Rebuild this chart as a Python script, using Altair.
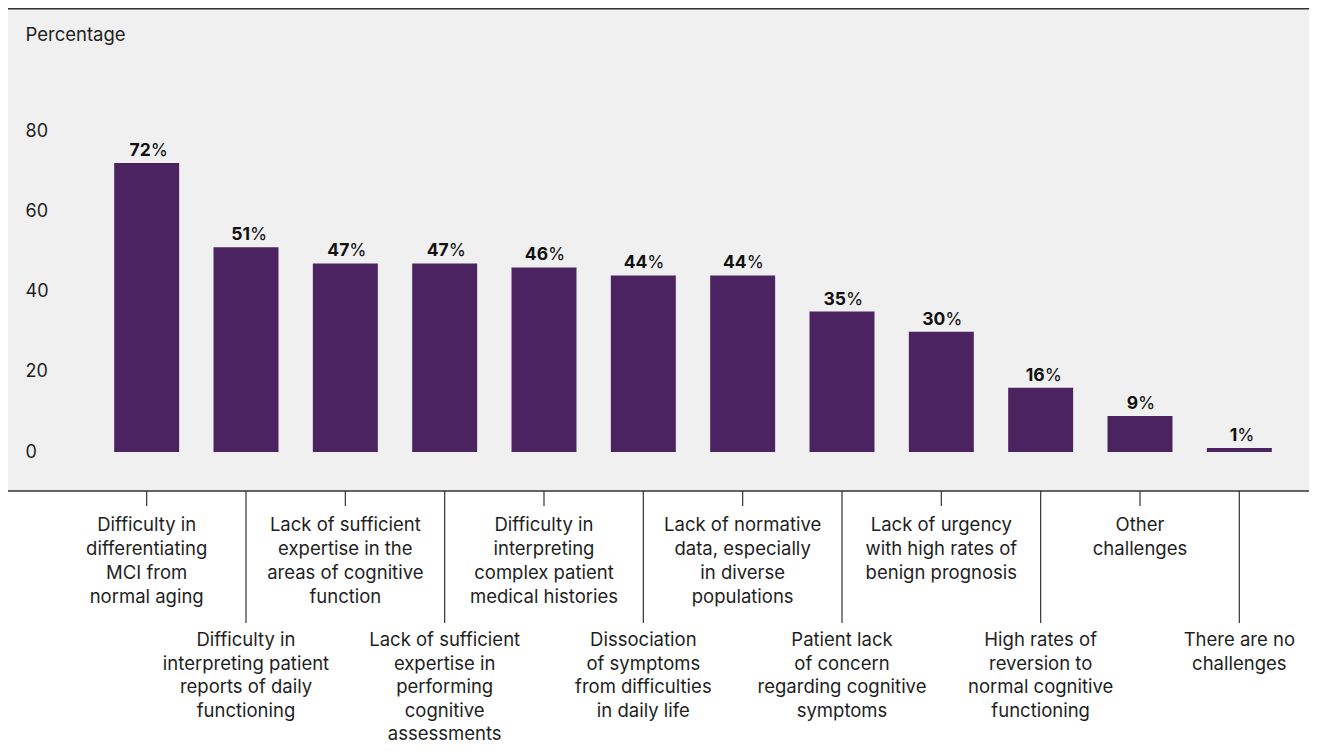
import altair as alt
import pandas as pd

categories = [
    "Difficulty in\ndifferentiating\nMCI from\nnormal aging",
    "Difficulty in\ninterpreting patient\nreports of daily\nfunctioning",
    "Lack of sufficient\nexpertise in the\nareas of cognitive\nfunction",
    "Lack of sufficient\nexpertise in\nperforming\ncognitive\nassessments",
    "Difficulty in\ninterpreting\ncomplex patient\nmedical histories",
    "Dissociation\nof symptoms\nfrom difficulties\nin daily life",
    "Lack of normative\ndata, especially\nin diverse\npopulations",
    "Patient lack\nof concern\nregarding cognitive\nsymptoms",
    "Lack of urgency\nwith high rates of\nbenign prognosis",
    "High rates of\nreversion to\nnormal cognitive\nfunctioning",
    "Other\nchallenges",
    "There are no\nchallenges",
]
values = [72, 51, 47, 47, 46, 44, 44, 35, 30, 16, 9, 1]
y_ticks = [0, 20, 40, 60, 80]

df = pd.DataFrame({"cat": categories, "v": values, "i": list(range(len(values)))})

W, H = 1192, 321
PL, PT, PR, PB = 89, 123, 20, 291
FONT = "Inter"
TXT = "#1e1e1e"
BAR = "#4a2360"
BG = "#f0f0f0"
LFS = 18.5

xs = alt.X("cat:N", sort=categories, axis=None,
           scale=alt.Scale(paddingInner=0.346, paddingOuter=0.173))
ys = alt.Y("v:Q", scale=alt.Scale(domain=[0, 80], nice=False),
           axis=alt.Axis(values=y_ticks, title="Percentage", titleAngle=0,
                         titleAlign="left", titleBaseline="middle",
                         titleX=-72, titleY=-97, titleFont=FONT,
                         titleFontSize=18.5, titleFontWeight="normal",
                         titleColor=TXT, labelFont=FONT, labelFontSize=18,
                         labelColor=TXT, labelAlign="left", labelPadding=72,
                         labelBaseline="middle", ticks=False, domain=False,
                         grid=False, zindex=1))

one = alt.Data(values=[{"a": 1}])

bg = alt.Chart(one).mark_rect(color=BG).encode(
    x=alt.value(-PL), x2=alt.value(W + PR),
    y=alt.value(-PT), y2=alt.value(H + 39))

top_line = alt.Chart(one).mark_rule(color="#333333", strokeWidth=1.5).encode(
    x=alt.value(-PL), x2=alt.value(W + PR), y=alt.value(-PT + 0.75))
axis_line = alt.Chart(one).mark_rule(color="#333333", strokeWidth=1.5).encode(
    x=alt.value(-PL), x2=alt.value(W + PR), y=alt.value(H + 39))

base = alt.Chart(df)

bars = base.mark_bar(color=BAR).encode(x=xs, y=ys)

def lbl(filt, dx, bold):
    if bold:
        m = base.transform_filter(filt).mark_text(
            font=FONT, fontSize=17.5, fontWeight="bold", color="#111111",
            align="right", baseline="alphabetic", dx=dx, dy=-7)
        return m.encode(x=xs, y=alt.Y("v:Q"), text=alt.Text("v:Q"))
    m = base.transform_filter(filt).mark_text(
        font=FONT, fontSize=17.5, color="#111111",
        align="left", baseline="alphabetic", dx=dx, dy=-7)
    return m.encode(x=xs, y=alt.Y("v:Q"), text=alt.value("%"))

num2 = lbl("datum.v >= 10", 4, True)
pct2 = lbl("datum.v >= 10", 4, False)
num1 = lbl("datum.v < 10", -2, True)
pct1 = lbl("datum.v < 10", -2, False)

even = base.transform_filter("datum.i % 2 == 0")
odd = base.transform_filter("datum.i % 2 == 1")

tick_even = even.mark_rule(color="#333333", strokeWidth=1.2).encode(
    x=xs, y=alt.value(H + 39), y2=alt.value(H + 54))
tick_odd = odd.mark_rule(color="#333333", strokeWidth=1.2).encode(
    x=xs, y=alt.value(H + 39), y2=alt.value(H + 171))

lab_even = even.mark_text(font=FONT, fontSize=LFS, color=TXT, align="center",
                          baseline="alphabetic", lineBreak="\n",
                          lineHeight=24).encode(
    x=xs, y=alt.value(H + 79), text="cat:N")
lab_odd = odd.mark_text(font=FONT, fontSize=LFS, color=TXT, align="center",
                        baseline="alphabetic", lineBreak="\n",
                        lineHeight=23.5).encode(
    x=xs, y=alt.value(H + 194), text="cat:N")

chart = alt.layer(
    bg, bars, num2, pct2, num1, pct1, top_line, axis_line,
    tick_even, tick_odd, lab_even, lab_odd
).properties(
    width=W, height=H,
    autosize=alt.AutoSizeParams(type="none"),
    padding={"left": PL, "top": PT, "right": PR, "bottom": PB},
    background="white",
).configure_view(stroke=None)

chart.save("out.html", embed_options={"renderer": "svg", "actions": False})
